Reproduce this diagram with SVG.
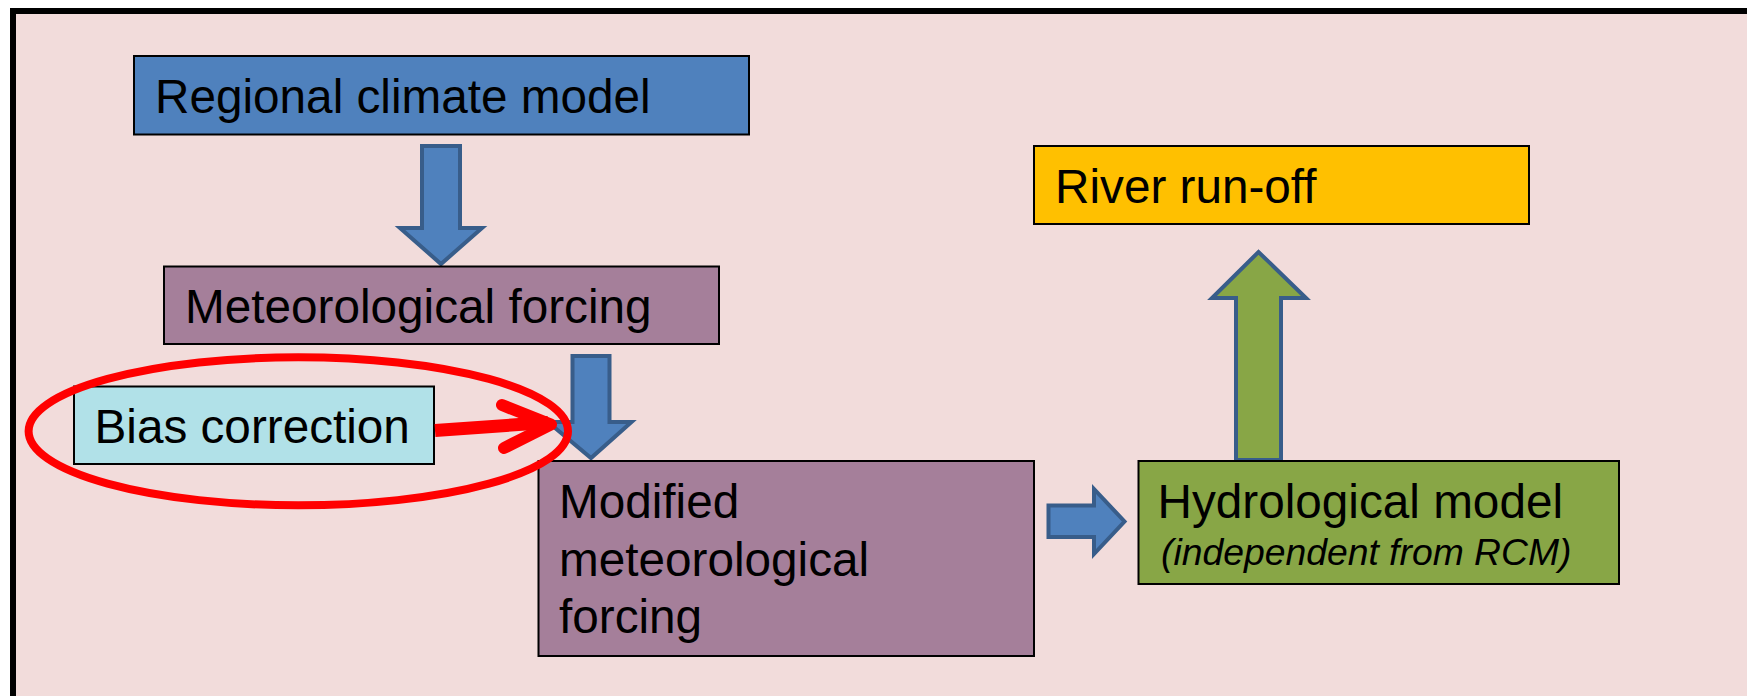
<svg xmlns="http://www.w3.org/2000/svg" width="1747" height="696" viewBox="0 0 1747 696">
<style>
.box{stroke:#000;stroke-width:2}
.t{font-family:"Liberation Sans",Arial,sans-serif;font-size:47.7px;fill:#000}
.ti{font-family:"Liberation Sans",Arial,sans-serif;font-size:37.3px;font-style:italic;fill:#000}
.barrow{fill:#4f81bd;stroke:#385d8a;stroke-width:4;stroke-linejoin:miter}
.garrow{fill:#88a646;stroke:#385d8a;stroke-width:4;stroke-linejoin:miter}
.red{fill:none;stroke:#ff0000;stroke-linejoin:round}
</style>
<rect x="0" y="0" width="1747" height="696" fill="#ffffff"/>
<rect x="13" y="11" width="1760" height="720" fill="#f2dcdb" stroke="#000" stroke-width="6"/>
<g id="connectors">
<path class="barrow" d="M422,146 H460 V228 H482 L441,264 L400,228 H422 Z"/>
<path class="barrow" d="M572.5,356 H609.5 V422 H631.5 L591,458 L548,422 H572.5 Z"/>
<path class="barrow" d="M1048.5,505.5 H1094 V489 L1124.5,521.5 L1094,554 V537 H1048.5 Z"/>
<path class="garrow" d="M1236,460 V298 H1212 L1258.5,252 L1306,298 H1281 V460 Z"/>
</g>
<g id="rcm">
<rect class="box" x="134" y="56" width="615" height="78.5" fill="#4f81bd"/>
<text class="t" x="155" y="113.3">Regional climate model</text>
</g>
<g id="met">
<rect class="box" x="164" y="266.5" width="555" height="77.5" fill="#a57f9a"/>
<text class="t" x="185" y="322.7">Meteorological forcing</text>
</g>
<g id="bias">
<rect class="box" x="74" y="386.5" width="360" height="77.5" fill="#b1e1e8"/>
<text class="t" x="94.5" y="443.3">Bias correction</text>
</g>
<g id="modified">
<rect class="box" x="538.5" y="461" width="495.5" height="195" fill="#a57f9a"/>
<text class="t" x="559" y="518.3">Modified</text>
<text class="t" x="559" y="576">meteorological</text>
<text class="t" x="559" y="633.3">forcing</text>
</g>
<g id="hydro">
<rect class="box" x="1138.5" y="461" width="480.5" height="123" fill="#88a646"/>
<text class="t" x="1157.5" y="518.3">Hydrological model</text>
<text class="ti" x="1161" y="565">(independent from RCM)</text>
</g>
<g id="runoff">
<rect class="box" x="1034" y="146" width="495" height="78" fill="#ffc000"/>
<text class="t" x="1055" y="203.3">River run-off</text>
</g>
<g id="highlight">
<ellipse class="red" cx="298.3" cy="431.3" rx="269.7" ry="74" stroke-width="8"/>
<path class="red" d="M435,430.5 L548,422.5" stroke-width="13" stroke-linecap="butt"/>
<path class="red" d="M502,405 L551,424.5 L504,448" stroke-width="12" stroke-linecap="round"/>
</g>
</svg>
